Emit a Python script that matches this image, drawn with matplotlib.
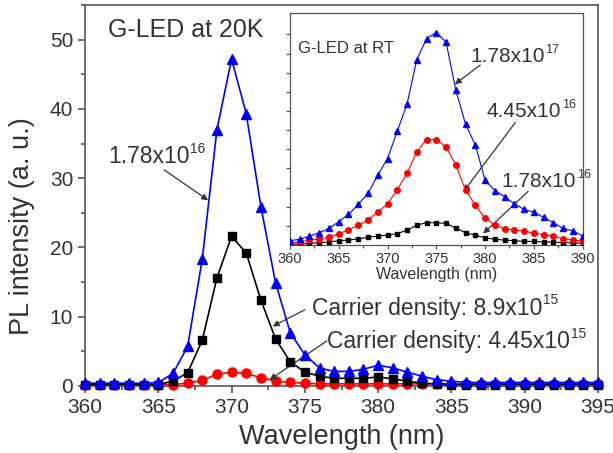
"""PL spectra of G-LED at 20 K with room-temperature inset."""

import matplotlib.pyplot as plt
import numpy as np
from matplotlib.ticker import MultipleLocator

plt.rcParams["font.family"] = ["Liberation Sans", "DejaVu Sans"]

TEXT = "#333333"
SPINE = "#555555"

# main panel, 20 K, 1 nm steps
wl_20k = np.arange(360, 396)
blue_20k = [0.4, 0.4, 0.4, 0.4, 0.4, 0.5,
            1.8, 5.7, 18.3, 37.0, 47.2, 39.3, 25.9, 14.9, 7.7, 4.5,
            2.6, 2.1, 2.1, 2.4, 3.0, 2.6, 2.0, 1.4, 0.9, 0.7,
            0.5, 0.5, 0.5, 0.5, 0.5, 0.5, 0.5, 0.5, 0.5, 0.5]
black_20k = [0.2, 0.2, 0.2, 0.2, 0.2, 0.2,
             0.7, 1.9, 6.6, 15.6, 21.6, 19.2, 12.4, 6.8, 3.5, 2.0,
             1.4, 1.1, 1.1, 1.1, 1.3, 1.0, 0.7, 0.4, 0.3, 0.2,
             0.2, 0.2, 0.2, 0.2, 0.2, 0.2, 0.2, 0.2, 0.2, 0.2]
red_20k = [0.2, 0.2, 0.2, 0.2, 0.2, 0.2, 0.2,
           0.4, 0.8, 1.7, 2.0, 1.8, 1.2, 0.7, 0.5, 0.4,
           0.3, 0.3, 0.3, 0.3, 0.3, 0.3, 0.3, 0.3, 0.3, 0.3,
           0.3, 0.3, 0.3, 0.3, 0.3, 0.3, 0.3, 0.3, 0.3, 0.3]

# inset, room temperature
wl_rt = np.arange(360, 391)
blue_rt = [0.23, 0.3, 0.47, 0.64, 0.87, 1.22, 1.6, 2.12, 2.7, 3.65, 4.52,
           5.95, 7.36, 9.69, 10.78, 11.1, 10.6, 8.09, 6.31, 5.22, 3.39,
           2.84, 2.53, 2.15, 1.86, 1.72, 1.44, 1.17, 0.87, 0.74, 0.48]
red_rt = [0.12, 0.16, 0.26, 0.33, 0.4, 0.6, 0.78, 1.04, 1.3, 1.74, 2.14,
          2.9, 3.74, 4.87, 5.51, 5.51, 5.13, 4.17, 2.87, 2.08, 1.4,
          1.05, 0.85, 0.8, 0.72, 0.62, 0.55, 0.45, 0.33, 0.28, 0.2]
black_rt = [0.05, 0.05, 0.09, 0.12, 0.16, 0.23, 0.26, 0.33, 0.4, 0.47, 0.52,
            0.6, 0.78, 1.04, 1.17, 1.17, 1.13, 0.9, 0.64, 0.52, 0.38,
            0.3, 0.26, 0.23, 0.19, 0.19, 0.16, 0.16, 0.12, 0.12, 0.09]


def style_axes(ax, lw, length, minor_length, pad, size):
    for sp in ax.spines.values():
        sp.set_color(SPINE)
        sp.set_linewidth(lw)
    ax.tick_params(which="both", direction="out", color=SPINE, width=lw,
                   labelcolor=TEXT, top=False, right=False)
    ax.tick_params(which="major", length=length, pad=pad, labelsize=size)
    ax.tick_params(which="minor", length=minor_length)


def label_with_power(ax, x, y, base, power, size):
    """Text like 1.78x10 with a small raised exponent after it."""
    t = ax.text(x, y, base, transform=ax.transAxes, fontsize=size, color=TEXT)
    ax.annotate(power, xy=(1, 1), xycoords=t, xytext=(0.5, 2.5),
                textcoords="offset points", ha="left", va="top",
                fontsize=size * 0.6, color=TEXT)
    return t


fig = plt.figure(figsize=(6.13, 4.53), dpi=100)
ax = fig.add_axes([0.1387, 0.148, 0.8368, 0.841])

ax.plot(wl_20k, red_20k, "-o", color="red", ms=6.5, lw=1.2, clip_on=False, zorder=3)
ax.plot(wl_20k, black_20k, "-s", color="black", ms=6, lw=1.2, clip_on=False, zorder=4)
ax.plot(wl_20k, blue_20k, "-^", color="blue", ms=7.5, lw=1.2, clip_on=False, zorder=5)

ax.set_xlim(360, 395)
ax.set_ylim(0, 55)
ax.xaxis.set_major_locator(MultipleLocator(5))
ax.xaxis.set_minor_locator(MultipleLocator(2.5))
ax.yaxis.set_minor_locator(MultipleLocator(5))
ax.set_yticks([0, 10, 20, 30, 40, 50])
style_axes(ax, 1.2, 5, 3, 3.5, 15)
ax.set_xlabel("Wavelength (nm)", fontsize=19.5, color=TEXT)
ax.set_ylabel("PL intensity (a. u.)", fontsize=19.5, color=TEXT)
ax.xaxis.set_label_coords(0.5, -0.1)
ax.yaxis.set_label_coords(-0.097, 0.42)

arrow = dict(arrowstyle="-|>", color="#333333", lw=0.9, mutation_scale=9,
             shrinkA=0, shrinkB=0)
ax.text(0.045, 0.916, "G-LED at 20K", transform=ax.transAxes,
        fontsize=18, color=TEXT)
label_with_power(ax, 0.045, 0.585, "1.78x10", "16", 16.5)
ax.annotate("", xy=(368.4, 26.8), xytext=(365.4, 31.2), arrowprops=arrow)
label_with_power(ax, 0.4425, 0.187, "Carrier density: 8.9x10", "15", 16.5)
ax.annotate("", xy=(372.8, 8.6), xytext=(375.0, 11.0), arrowprops=arrow)
label_with_power(ax, 0.4717, 0.0997, "Carrier density: 4.45x10", "15", 16.5)
ax.annotate("", xy=(372.6, 0.9), xytext=(376.5, 6.5), arrowprops=arrow)

# inset
ins = fig.add_axes([0.473, 0.459, 0.4775, 0.5115])
ins.plot(wl_rt, black_rt, "-s", color="black", ms=3.5, lw=0.8, zorder=3)
ins.plot(wl_rt, red_rt, "-o", color="red", ms=4, lw=0.8, zorder=4)
ins.plot(wl_rt, blue_rt, "-^", color="blue", ms=4, lw=0.8, zorder=5)
ins.set_xlim(360, 390)
ins.set_ylim(0, 12.1)
ins.xaxis.set_major_locator(MultipleLocator(5))
ins.xaxis.set_minor_locator(MultipleLocator(2.5))
ins.set_yticks(np.arange(1, 12))
ins.set_yticklabels([])
style_axes(ins, 0.9, 3, 2, 2, 10.5)
ins.set_xlabel("Wavelength (nm)", fontsize=11.5, color=TEXT, labelpad=1)

ins.text(0.027, 0.829, "G-LED at RT", transform=ins.transAxes,
         fontsize=12, color=TEXT)
label_with_power(ins, 0.615, 0.79, "1.78x10", "17", 15)
ins.annotate("", xy=(376.9, 8.4), xytext=(379.5, 9.4), arrowprops=arrow)
label_with_power(ins, 0.673, 0.552, "4.45x10", "16", 15)
ins.annotate("", xy=(377.8, 2.8), xytext=(383.1, 6.4), arrowprops=arrow)
label_with_power(ins, 0.724, 0.25, "1.78x10", "16", 15)
ins.annotate("", xy=(379.8, 0.6), xytext=(384.4, 2.8), arrowprops=arrow)

fig.savefig("out.png", dpi=100)
